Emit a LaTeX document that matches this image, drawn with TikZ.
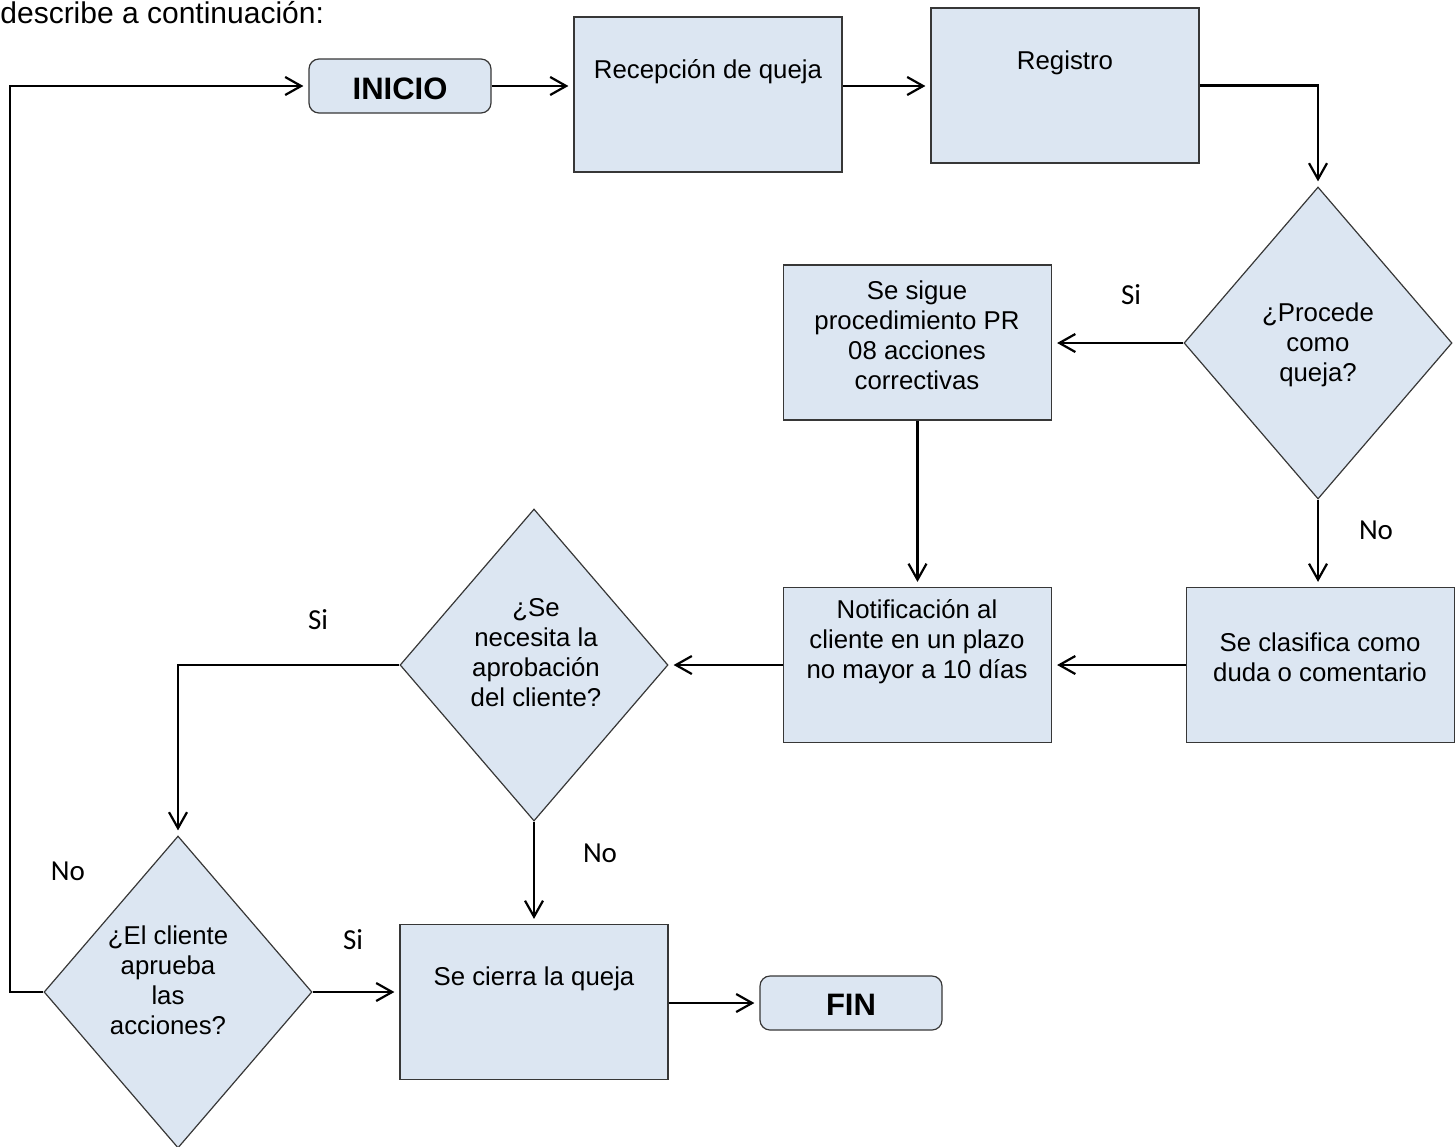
\documentclass[tikz,border=0pt]{standalone}
\usepackage{fontspec}
\setmainfont{Liberation Sans}
\newfontfamily\calibrifont{Carlito}
\usepackage{tikz}
\usetikzlibrary{shapes.geometric}
\usetikzlibrary{arrows.meta}
\definecolor{boxblue}{RGB}{220,230,242}
\definecolor{boxedge}{RGB}{55,55,55}

\begin{document}
\begin{tikzpicture}[x=0.5pt, y=-0.5pt,
  taskbox/.style={shape=rectangle, draw=boxedge, fill=boxblue, line width=0.6pt, minimum width=134pt, minimum height=77.5pt, inner sep=0pt},
  endbox/.style={shape=rectangle, rounded corners=5pt, draw=boxedge, fill=boxblue, line width=0.6pt, minimum width=91pt, minimum height=27pt, inner sep=0pt},
  askbox/.style={shape=diamond, draw=boxedge, fill=boxblue, line width=0.6pt, minimum width=134pt, minimum height=156pt, inner sep=0pt},
  txt/.style={align=center, font=\fontsize{12.9}{15}\selectfont, inner sep=0pt},
  boldtxt/.style={font=\fontsize{15.5}{18}\selectfont\bfseries, inner sep=0pt},
  answer/.style={font=\calibrifont\fontsize{14.5}{17}\selectfont, inner sep=0pt},
  flow/.style={-{Straight Barb[length=8pt, width=9pt]}, line width=1.1pt, shorten >=2.5pt}]
\useasboundingbox (0,0) rectangle (1455,1146);

\node[anchor=base west, font=\fontsize{15}{18}\selectfont, inner sep=0pt](intro) at (0,23) {describe a continuación:};

\node[endbox](inicio) at (400,86) {};
\node[taskbox](recep) at (708,94.5) {};
\node[taskbox](reg) at (1065,85.5) {};
\node[askbox](procede) at (1318,343) {};
\node[taskbox](sigue) at (917.5,342.5) {};
\node[taskbox](clas) at (1320.5,665) {};
\node[taskbox](notif) at (917.5,665) {};
\node[askbox](necesita) at (534,665) {};
\node[askbox](aprueba) at (178,992) {};
\node[taskbox](cierra) at (534,1002) {};
\node[endbox](fin) at (851,1003) {};
\coordinate (back) at (10,992);

\node[boldtxt](inicio-t) at (400,89) {INICIO};
\node[txt](recep-t) at (708,72) {Recepción de queja};
\node[txt](reg-t) at (1065,63) {Registro};
\node[txt](procede-t) at (1318,345) {¿Procede\\como\\queja?};
\node[txt](sigue-t) at (917,335) {Se sigue\\procedimiento PR\\08 acciones\\correctivas};
\node[txt](clas-t) at (1320,657) {Se clasifica como\\duda o comentario};
\node[txt](notif-t) at (917,642) {Notificación al\\cliente en un plazo\\no mayor a 10 días};
\node[txt](necesita-t) at (536,653) {¿Se\\necesita la\\aprobación\\del cliente?};
\node[txt](aprueba-t) at (168,980) {¿El cliente\\aprueba\\las\\acciones?};
\node[txt](cierra-t) at (534,979) {Se cierra la queja};
\node[boldtxt](fin-t) at (851,1005) {FIN};

\node[answer](si1) at (1131,295) {Si};
\node[answer](no1) at (1376,530) {No};
\node[answer](si2) at (318,620) {Si};
\node[answer](no2) at (600,853) {No};
\node[answer](no3) at (68,871) {No};
\node[answer](si3) at (353,940) {Si};

\draw[flow] (aprueba.west) -- (back) |- (inicio.west);
\draw[flow] (inicio.east) -- (inicio.east -| recep.west);
\draw[flow] (recep.east |- inicio.east) -- (inicio.east -| reg.west);
\draw[flow] (reg.east) -| (procede.north);
\draw[flow] (procede.west) -- (procede.west -| sigue.east);
\draw[flow] (procede.south) -- (procede.south |- clas.north);
\draw[flow] (sigue.south) -- (notif.north);
\draw[flow] (clas.west) -- (notif.east);
\draw[flow] (notif.west) -- (necesita.east);
\draw[flow] (necesita.west) -| (aprueba.north);
\draw[flow] (necesita.south) -- (cierra.north);
\draw[flow] (aprueba.east) -- (aprueba.east -| cierra.west);
\draw[flow] (cierra.east |- fin.west) -- (fin.west);
\end{tikzpicture}
\end{document}
